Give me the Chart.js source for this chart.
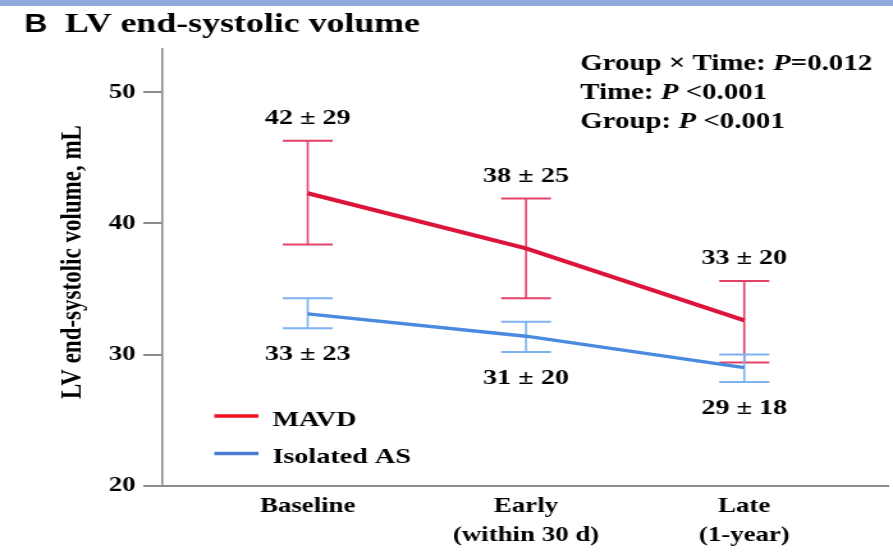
<!DOCTYPE html>
<html>
<head>
<meta charset="utf-8">
<script src="https://cdn.jsdelivr.net/npm/chart.js@4.4.1/dist/chart.umd.min.js"></script>
<style>
html, body { margin: 0; padding: 0; background: #fff; }
</style>
</head>
<body>
<!-- the figure is horizontally stretched, so the canvas is drawn narrower and scaled by css -->
<canvas id="chart" width="698" height="552" style="width:893px;height:552px"></canvas>
<script>
// Data
const timePoints = [['Baseline'], ['Early', '(within 30 d)'], ['Late', '(1-year)']];
const yTicks = [20, 30, 40, 50];

const mavdMean = [42.3, 38.1, 32.6];
const mavdLow = [38.4, 34.3, 29.4];
const mavdHigh = [46.3, 41.9, 35.6];
const mavdText = ['42 ± 29', '38 ± 25', '33 ± 20'];

const asMean = [33.1, 31.4, 29.0];
const asLow = [32.0, 30.2, 27.9];
const asHigh = [34.3, 32.5, 30.0];
const asText = ['33 ± 23', '31 ± 20', '29 ± 18'];

const statLines = [
    ['Group × Time: ', 'P', '=0.012'],
    ['Time: ', 'P', ' <0.001'],
    ['Group: ', 'P', ' <0.001']
];

const SERIF = '"Liberation Serif", "Times New Roman", serif';

const extras = {
    id: 'extras',
    beforeDraw(chart) {
        const ctx = chart.ctx;
        ctx.save();
        ctx.fillStyle = '#8eaadb';
        ctx.fillRect(0, 0, chart.width, 6);
        ctx.restore();
    },
    beforeDatasetsDraw(chart) {
        // error bars
        const ctx = chart.ctx;
        const xs = chart.scales.x, ys = chart.scales.y;
        chart.data.datasets.forEach(ds => {
            ctx.save();
            ctx.strokeStyle = ds.errColor;
            ds.low.forEach((lo, i) => {
                const px = xs.getPixelForValue(i);
                const yl = ys.getPixelForValue(lo);
                const yh = ys.getPixelForValue(ds.high[i]);
                ctx.lineWidth = 1.6;
                ctx.beginPath();
                ctx.moveTo(px, yl);
                ctx.lineTo(px, yh);
                ctx.stroke();
                ctx.lineWidth = 2;
                ctx.beginPath();
                ctx.moveTo(px - 19.5, yl); ctx.lineTo(px + 19.5, yl);
                ctx.moveTo(px - 19.5, yh); ctx.lineTo(px + 19.5, yh);
                ctx.stroke();
            });
            ctx.restore();
        });
    },
    afterDraw(chart) {
        const ctx = chart.ctx;
        const xs = chart.scales.x, ys = chart.scales.y;
        ctx.save();
        ctx.fillStyle = '#000';

        // mean ± SD labels
        ctx.font = 'bold 22px ' + SERIF;
        ctx.textAlign = 'center';
        ctx.textBaseline = 'alphabetic';
        chart.data.datasets.forEach(ds => {
            ds.text.forEach((t, i) => {
                const px = xs.getPixelForValue(i);
                if (ds.textAbove) {
                    ctx.fillText(t, px, ys.getPixelForValue(ds.high[i]) - 17);
                } else {
                    ctx.fillText(t, px, ys.getPixelForValue(ds.low[i]) + 32);
                }
            });
        });

        // panel title
        ctx.textAlign = 'left';
        ctx.font = 'bold 25px "Liberation Sans", Arial, sans-serif';
        ctx.fillText('B', 19, 32);
        ctx.font = 'bold 28px ' + SERIF;
        ctx.fillText('LV end-systolic volume', 50.8, 32);

        // stats
        statLines.forEach((parts, k) => {
            let x = 453.5;
            const y = 70 + k * 29;
            parts.forEach((p, j) => {
                ctx.font = (j === 1 ? 'italic bold 22.6px ' : 'bold 22.6px ') + SERIF;
                ctx.fillText(p, x, y);
                x += ctx.measureText(p).width;
            });
        });

        // legend
        chart.data.datasets.forEach((ds, i) => {
            const y = 416 + i * 37.5;
            ctx.strokeStyle = ds.legendColor;
            ctx.lineWidth = 3.5;
            ctx.beginPath();
            ctx.moveTo(167.5, y);
            ctx.lineTo(202, y);
            ctx.stroke();
            ctx.font = 'bold 22px ' + SERIF;
            ctx.fillText(ds.label, 213, y + 9.5);
        });

        // y axis title
        ctx.translate(57, 262);
        ctx.rotate(-Math.PI / 2);
        ctx.textAlign = 'center';
        ctx.textBaseline = 'middle';
        ctx.font = 'bold 23px ' + SERIF;
        ctx.fillText('LV end-systolic volume, mL', 0, 0);
        ctx.restore();
    }
};

const tickFont = { family: SERIF, size: 21, weight: 'bold' };

new Chart(document.getElementById('chart'), {
    type: 'line',
    data: {
        datasets: [
            {
                label: 'MAVD',
                data: mavdMean.map((v, i) => ({ x: i, y: v })),
                borderColor: '#dc143c',
                borderWidth: 4,
                low: mavdLow, high: mavdHigh, text: mavdText, textAbove: true,
                errColor: '#e2426a', legendColor: '#f01020'
            },
            {
                label: 'Isolated AS',
                data: asMean.map((v, i) => ({ x: i, y: v })),
                borderColor: '#4a89e0',
                borderWidth: 3.4,
                low: asLow, high: asHigh, text: asText, textAbove: false,
                errColor: '#7db1ef', legendColor: '#4a7bd0'
            }
        ]
    },
    options: {
        responsive: false,
        devicePixelRatio: 1,
        animation: false,
        layout: { padding: { top: 49, right: 4, left: 0, bottom: 0 } },
        elements: { point: { radius: 0 }, line: { tension: 0 } },
        plugins: { legend: { display: false }, tooltip: { enabled: false } },
        scales: {
            x: {
                type: 'linear',
                min: -0.666,
                max: 2.658,
                afterBuildTicks: s => { s.ticks = timePoints.map((_, i) => ({ value: i })); },
                afterFit: s => { s.height = 66.3; },
                grid: { drawOnChartArea: false, drawTicks: false },
                border: { color: '#8c8c8c', width: 2 },
                ticks: {
                    callback: (v, i) => timePoints[i],
                    color: '#000',
                    font: Object.assign({ lineHeight: 1.38 }, tickFont),
                    padding: 6,
                    maxRotation: 0,
                    autoSkip: false
                }
            },
            y: {
                min: 20,
                max: 53.3,
                afterBuildTicks: s => { s.ticks = yTicks.map(v => ({ value: v })); },
                afterFit: s => { s.width = 126.9; },
                grid: { drawOnChartArea: false, tickLength: 15, color: '#8c8c8c', lineWidth: 2 },
                border: { color: '#8c8c8c', width: 1.6 },
                ticks: { color: '#000', font: tickFont, padding: 6 }
            }
        }
    },
    plugins: [extras]
});
</script>
</body>
</html>
